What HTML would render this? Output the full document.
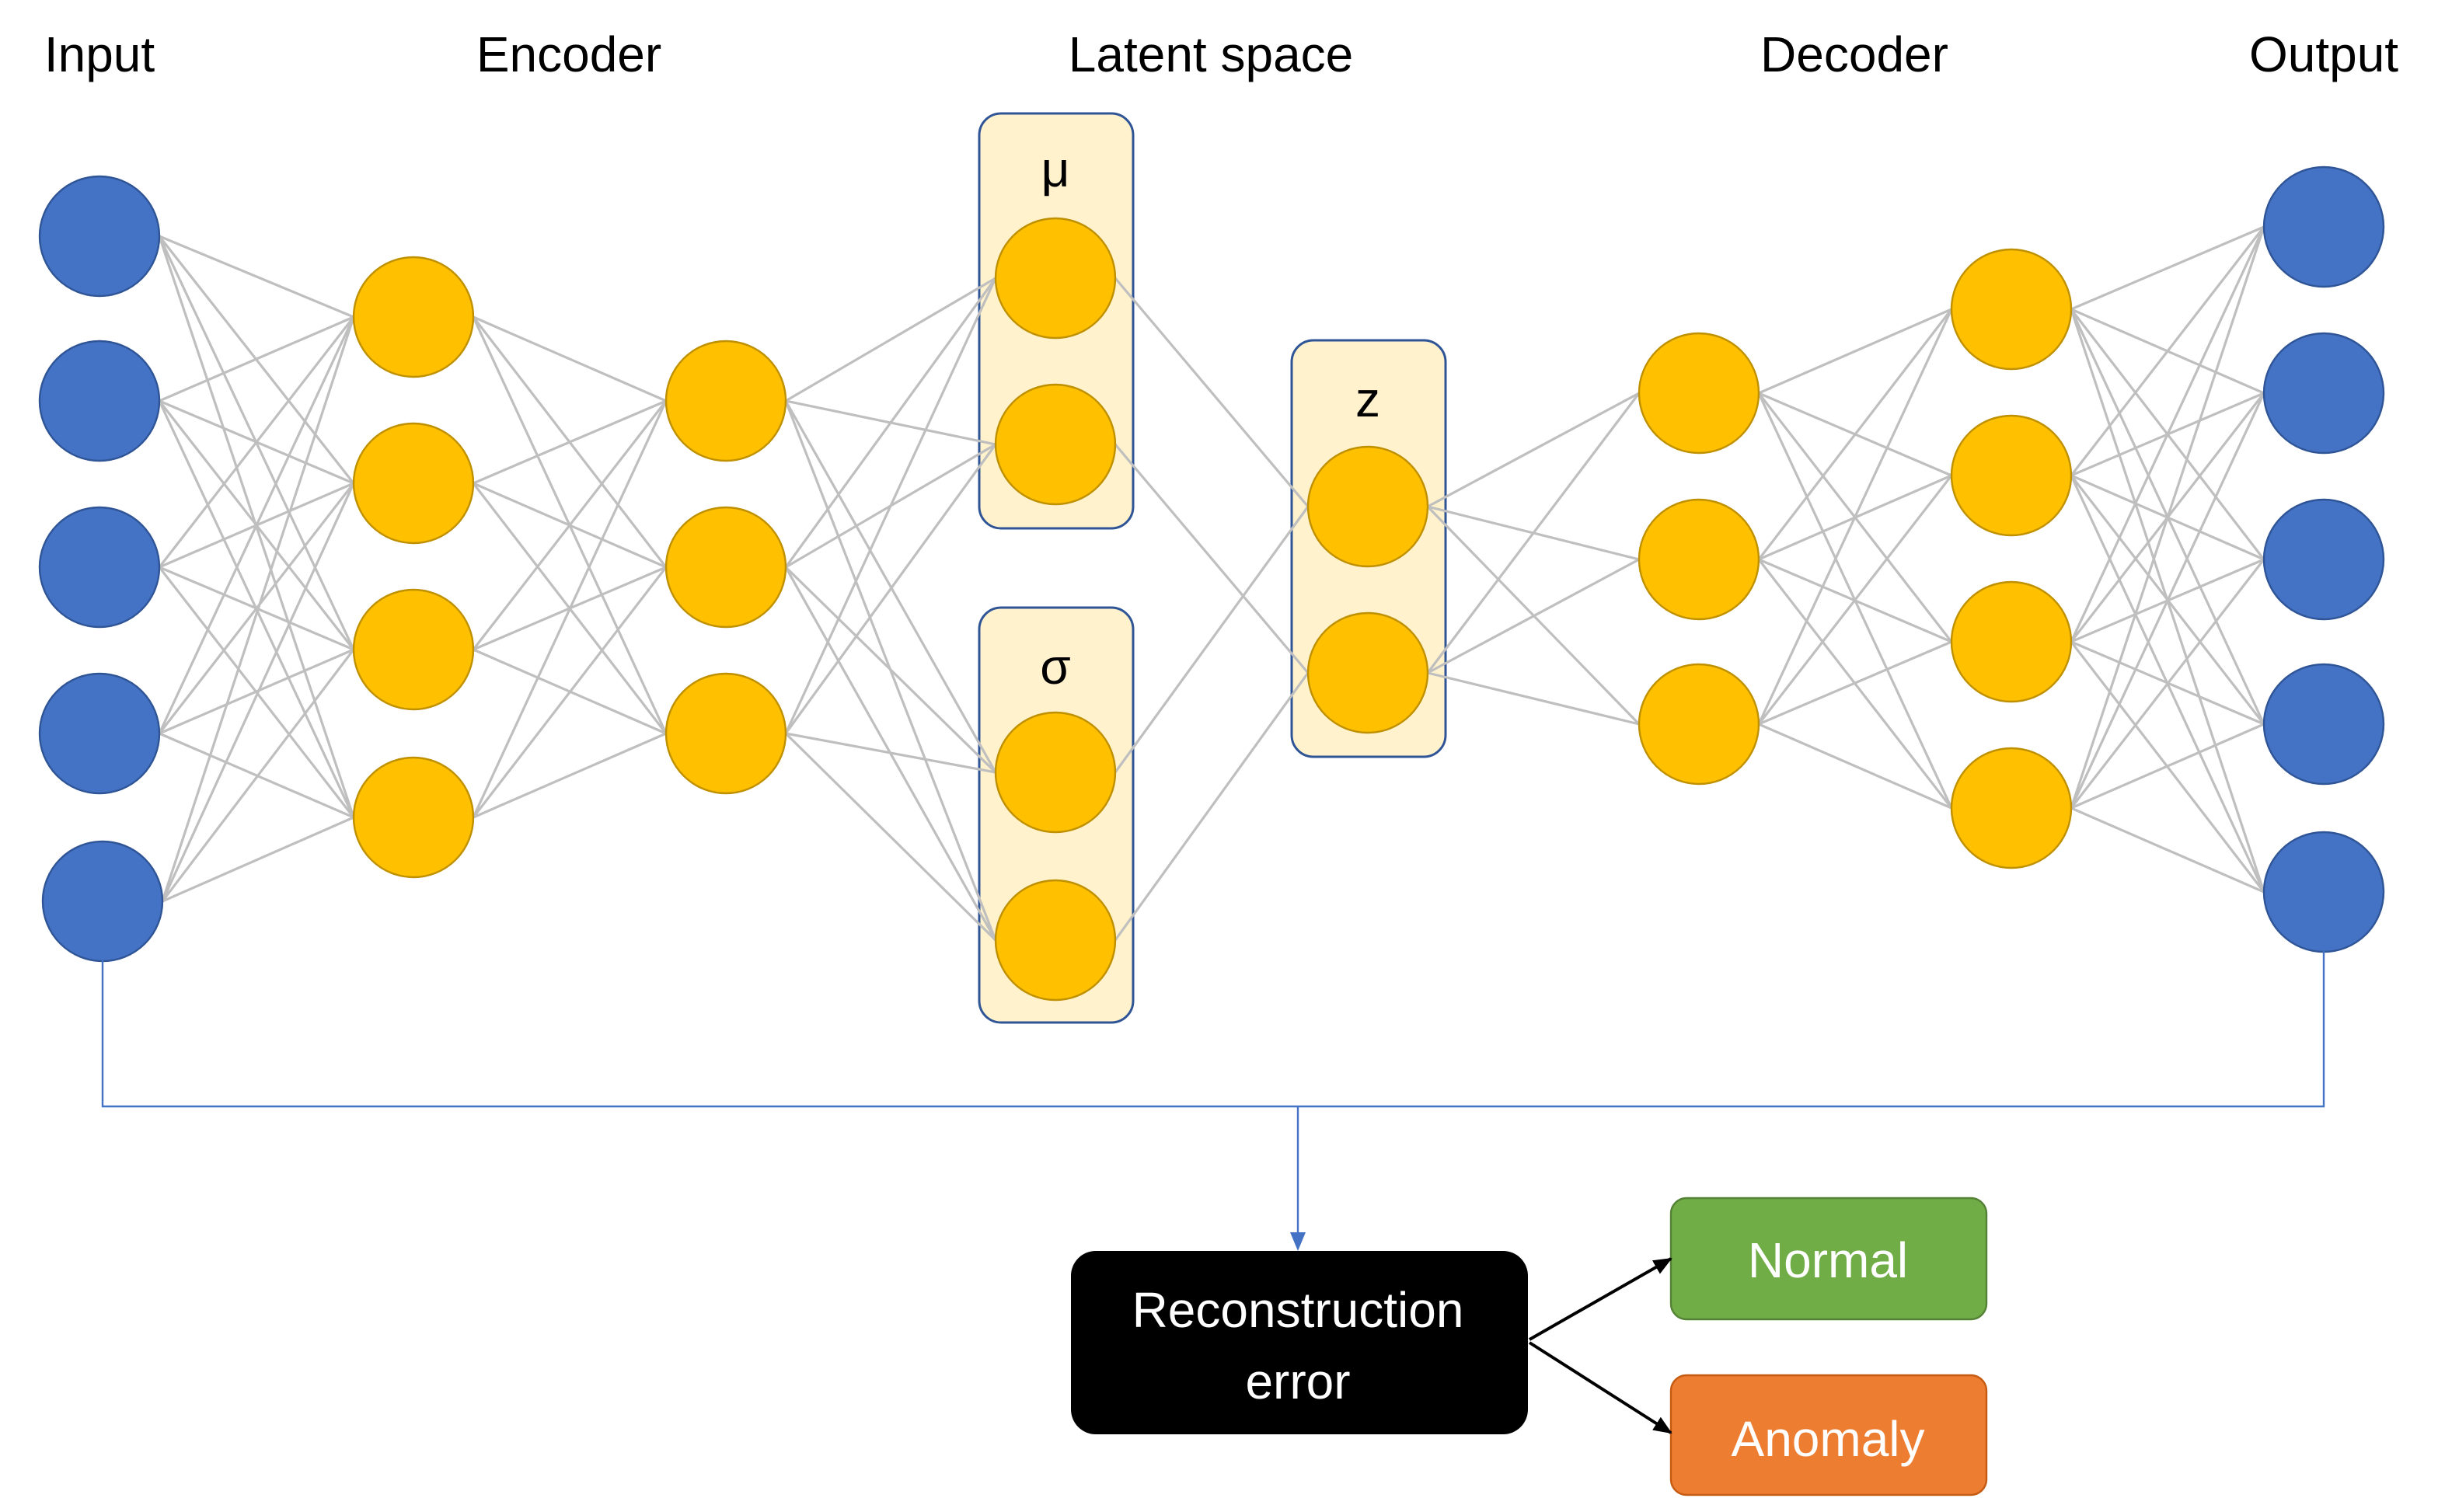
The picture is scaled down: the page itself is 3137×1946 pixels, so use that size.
<!DOCTYPE html>
<html><head><meta charset="utf-8"><style>
html,body{margin:0;padding:0;background:#fff;}
svg{display:block;}
text{font-family:"Liberation Sans",sans-serif;}
</style></head><body>
<svg id="s" width="3137" height="1946" viewBox="0 0 1568.5 973" xmlns="http://www.w3.org/2000/svg">
<defs>
<marker id="ba" markerUnits="userSpaceOnUse" markerWidth="12" markerHeight="10" refX="11" refY="5" orient="auto"><path d="M0,0 L12,5 L0,10 z" fill="#000"/></marker>
</defs>
<rect width="1568.5" height="973" fill="#fff"/>
<g font-size="32" text-anchor="middle" fill="#000">
<text x="64" y="46">Input</text>
<text x="366" y="46">Encoder</text>
<text x="779" y="46">Latent space</text>
<text x="1193" y="46">Decoder</text>
<text x="1495" y="46">Output</text>
</g>
<rect x="630" y="73" width="99" height="267" rx="14" fill="#fff2cc" stroke="#2f5597" stroke-width="1.5"/>
<rect x="630" y="391" width="99" height="267" rx="14" fill="#fff2cc" stroke="#2f5597" stroke-width="1.5"/>
<rect x="831" y="219" width="99" height="268" rx="14" fill="#fff2cc" stroke="#2f5597" stroke-width="1.5"/>
<g font-size="32" text-anchor="middle" fill="#000">
<text x="679" y="120">μ</text>
<text x="679" y="440">σ</text>
<text x="880" y="268">z</text>
</g>
<g id="lines" stroke="#bfbfbf" stroke-width="1.6" fill="none"></g>
<g id="nodes"></g>
<path d="M66,618 V712 H1495 V612 M835,712 V798" stroke="#4472c4" stroke-width="1.2" fill="none"/>
<path d="M830,793 L840,793 L835,805 z" fill="#4472c4"/>
<rect x="689" y="805" width="294" height="118" rx="16" fill="#000"/>
<text x="835" y="854" font-size="32" fill="#fff" text-anchor="middle">Reconstruction</text>
<text x="835" y="900" font-size="32" fill="#fff" text-anchor="middle">error</text>
<rect x="1075" y="771" width="203" height="78" rx="10" fill="#70ad47" stroke="#548235" stroke-width="1.2"/>
<text x="1176" y="822" font-size="32" fill="#fff" text-anchor="middle">Normal</text>
<rect x="1075" y="885" width="203" height="77" rx="10" fill="#ed7d31" stroke="#c55a11" stroke-width="1.2"/>
<text x="1176" y="937" font-size="32" fill="#fff" text-anchor="middle">Anomaly</text>
<line x1="984" y1="862" x2="1075" y2="810" stroke="#000" stroke-width="2" marker-end="url(#ba)"/>
<line x1="984" y1="864" x2="1075" y2="922" stroke="#000" stroke-width="2" marker-end="url(#ba)"/>
</svg>
<script>
var R=38.5,NS="http://www.w3.org/2000/svg";
function L(x,ys){return ys.map(function(y){return [x,y];});}
var inp=[[64,152],[64,258],[64,365],[64,472],[66,580]];
var e1=L(266,[204,311,418,526]);
var e2=L(467,[258,365,472]);
var mu=L(679,[179,286]);
var sg=L(679,[497,605]);
var z=L(880,[326,433]);
var d1=L(1093,[253,360,466]);
var d2=L(1294,[199,306,413,520]);
var out=L(1495,[146,253,360,466,574]);
var lg=document.getElementById('lines'),ng=document.getElementById('nodes');
function ln(p,q){var l=document.createElementNS(NS,'line');
 l.setAttribute('x1',p[0]+R);l.setAttribute('y1',p[1]);
 l.setAttribute('x2',q[0]-R);l.setAttribute('y2',q[1]);lg.appendChild(l);}
function conn(a,b){a.forEach(function(p){b.forEach(function(q){ln(p,q);});});}
conn(inp,e1);conn(e1,e2);conn(e2,mu);conn(e2,sg);
ln(mu[0],z[0]);ln(mu[1],z[1]);ln(sg[0],z[0]);ln(sg[1],z[1]);
conn(z,d1);conn(d1,d2);conn(d2,out);
function nodes(a,f,s){a.forEach(function(p){var c=document.createElementNS(NS,'circle');
 c.setAttribute('cx',p[0]);c.setAttribute('cy',p[1]);c.setAttribute('r',R);
 c.setAttribute('fill',f);c.setAttribute('stroke',s);c.setAttribute('stroke-width','1.2');ng.appendChild(c);});}
nodes(inp,'#4472c4','#2f5597');nodes(out,'#4472c4','#2f5597');
[e1,e2,mu,sg,z,d1,d2].forEach(function(a){nodes(a,'#ffc000','#bf9000');});
</script>
</body></html>
